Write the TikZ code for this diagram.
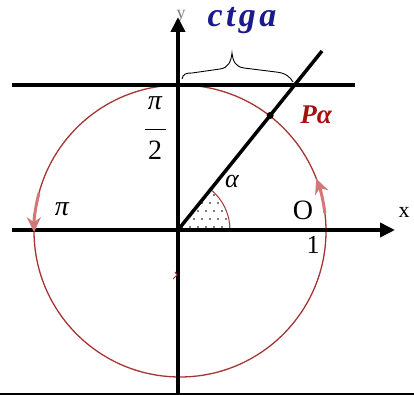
\documentclass[tikz,border=0pt]{standalone}
\usepackage{fontspec}
\setmainfont{Liberation Serif}
\usetikzlibrary{arrows.meta,calc}
\definecolor{circ}{HTML}{A53535}
\definecolor{pinkar}{HTML}{D27878}
\definecolor{ctgblue}{HTML}{1A1A8C}
\definecolor{pred}{HTML}{A81010}
\tikzset{
  axis/.style={line width=3.5pt,-{Triangle[length=15pt,width=14pt]}},
  circarrow/.style={pinkar,line width=3pt,-{Stealth[length=15pt,width=14pt]}},
  lbl/.style={inner sep=0pt,font=\fontsize{#1}{#1}\selectfont},
}
\begin{document}
\begin{tikzpicture}[x=1pt,y=1pt]
\useasboundingbox (0,0) rectangle (414,395);
\coordinate (O) at (178,165);
\coordinate (C) at (180,164);
\coordinate (xl) at (12,165);
\coordinate (xr) at (395,165);
\coordinate (yb) at (178,0);
\coordinate (yt) at (178,378);
\coordinate (tl) at (12,310);
\coordinate (tr) at (355,310);
\coordinate (E) at (322,344);
\coordinate (P) at ($(O)!147pt!(E)$);
% circle
\draw[circ,line width=1.3pt] (C) circle[radius=146];
% dotted sector
\begin{scope}
  \clip (O) -- ++(0:52) arc[start angle=0,end angle=51.2,radius=52] -- cycle;
  \foreach \i in {0,...,8}
    \foreach \j in {0,...,7}
      \fill ({178+\i*8+4+mod(\j,2)*4},{165+\j*8+3}) circle[radius=0.8];
\end{scope}
\draw[circ,line width=1pt] ($(O)+(52,0)$) arc[start angle=0,end angle=51.2,radius=52];
% brace
\draw[line width=0.9pt] (182,316) .. controls (183,321) and (186,322) .. (192,322) -- (220,326)
  .. controls (228,327) and (231,333) .. (232,342)
  .. controls (233,333) and (236,328) .. (244,327) -- (276,323)
  .. controls (286,322) and (290,318) .. (293,313);
% labels behind
\node[lbl=18,text=gray] (ylab) at (181,379) {y};
% lines
\draw[line width=4pt] (tl) -- (tr);
\draw[axis] (xl) -- (xr);
\draw[axis] (yb) -- (yt);
\draw[line width=3.5pt] (O) -- (E);
\fill (P) circle[radius=3.5];
% circle arrows
\draw[circarrow] ($(C)+(7:146)$) arc[start angle=7,end angle=21,radius=146];
\draw[circarrow] ($(C)+(165:146)$) arc[start angle=165,end angle=180.5,radius=146];
% small red mark
\draw[circ,line width=1pt] (173,116) -- (177,120) -- (175,123);
% bottom border
\draw[line width=2pt] (0,1) -- (414,1);
% labels
\node[lbl=34,text=ctgblue] (ctg) at (242,374) {\addfontfeatures{LetterSpace=10}\bfseries\itshape ctga};
\node[lbl=22] (xlab) at (404,183) {x};
\node[lbl=28] (pinum) at (155,292) {\itshape π};
\draw[line width=1pt] (145,265) -- (166,265);
\node[lbl=28] (two) at (155,245) {2};
\node[lbl=28] (pil) at (62,186) {\itshape π};
\node[lbl=26] (al) at (232,213) {\itshape α};
\node[lbl=27,text=pred] (Pa) at (316,280) {\bfseries\itshape Pα};
\node[lbl=28] (Ol) at (303,185) {O};
\node[lbl=26] (one) at (313,150) {1};
\end{tikzpicture}
\end{document}
